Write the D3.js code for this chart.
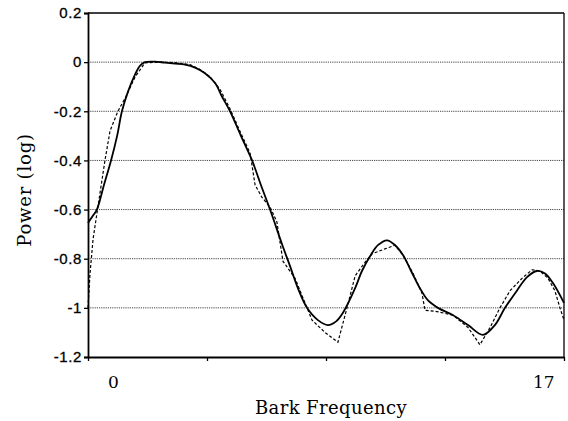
<!DOCTYPE html>
<html><head><meta charset="utf-8">
<script src="https://cdn.jsdelivr.net/npm/d3@7"></script>
<style>body{margin:0;background:#fff}svg{display:block}</style>
</head><body>
<svg id="c" width="568" height="421"></svg>
<script>
// Data (x in Bark, y in log power)
const smoothX = [-1.0,-0.84,-0.65,-0.37,-0.09,0.15,0.34,0.58,0.86,1.05,1.25,1.65,2.04,2.44,2.83,3.23,3.62,4.02,4.29,4.61,5.04,5.48,5.83,6.19,6.66,6.98,7.29,7.65,8.08,8.48,8.80,9.07,9.55,9.82,10.14,10.45,10.81,11.13,11.44,11.76,12.11,12.43,12.82,13.42,14.01,14.60,15.07,15.47,15.94,16.34,16.73,17.05,17.37,17.8];
const smoothY = [-0.655,-0.63,-0.60,-0.50,-0.40,-0.30,-0.20,-0.12,-0.05,-0.015,0.0,0.002,-0.002,-0.006,-0.01,-0.022,-0.045,-0.085,-0.14,-0.20,-0.30,-0.40,-0.50,-0.60,-0.74,-0.83,-0.92,-1.0,-1.05,-1.07,-1.055,-1.02,-0.92,-0.85,-0.79,-0.745,-0.725,-0.745,-0.785,-0.85,-0.92,-0.97,-1.0,-1.03,-1.07,-1.11,-1.07,-1.0,-0.93,-0.875,-0.85,-0.86,-0.9,-0.98];
const dashX = [-1.0,-0.96,-0.92,-0.80,-0.61,-0.33,-0.13,0.18,0.50,0.86,1.25,1.84,2.44,3.03,3.42,3.82,4.21,4.61,5.04,5.40,5.60,5.87,6.19,6.46,6.58,6.70,7.18,7.49,7.85,8.36,8.87,9.23,9.55,9.90,10.22,10.73,11.12,11.44,11.84,12.19,12.31,12.78,13.42,14.01,14.48,14.88,15.27,15.67,16.14,16.54,16.85,17.17,17.44,17.64,17.8];
const dashY = [-1.0,-0.93,-0.86,-0.72,-0.59,-0.40,-0.28,-0.20,-0.14,-0.06,-0.003,0.0,-0.002,-0.01,-0.03,-0.06,-0.11,-0.19,-0.29,-0.37,-0.50,-0.55,-0.59,-0.65,-0.73,-0.81,-0.88,-0.96,-1.05,-1.10,-1.14,-1.0,-0.87,-0.82,-0.78,-0.76,-0.745,-0.785,-0.86,-0.94,-1.01,-1.015,-1.03,-1.08,-1.15,-1.08,-1.0,-0.93,-0.88,-0.845,-0.85,-0.88,-0.93,-1.0,-1.05];
const yTicks = [0.2,0,-0.2,-0.4,-0.6,-0.8,-1,-1.2];
const yTickLabels = ["0.2","0","-0.2","-0.4","-0.6","-0.8","-1","-1.2"];
const xLabels = [0,17];
const xDomain = [-1,17.8];
const xTickCount = 4;

const svg = d3.select("#c");
const L=88, R=564, T=13, B=357;
const x = d3.scaleLinear().domain(xDomain).range([L,R]);
const y = d3.scaleLinear().domain([-1.2,0.2]).range([B,T]);
const xt = d3.scaleLinear().domain([0,xTickCount]).range([L,R]);

// gridlines
svg.append("g").selectAll("line").data(yTicks.filter(v=>v<0.19&&v>-1.19)).join("line")
  .attr("x1",L).attr("x2",R).attr("y1",d=>y(d)).attr("y2",d=>y(d))
  .attr("stroke","#444").attr("stroke-width",1).attr("stroke-dasharray","1.2,1");

// frame top & right
svg.append("line").attr("x1",L).attr("x2",R).attr("y1",T).attr("y2",T).attr("stroke","#000").attr("stroke-width",1.6);
svg.append("line").attr("x1",R).attr("x2",R).attr("y1",T).attr("y2",B).attr("stroke","#000").attr("stroke-width",1.3);

// y axis
const ya = svg.append("g").attr("transform",`translate(${L},0)`)
  .call(d3.axisLeft(y).tickValues(yTicks).tickSize(4).tickFormat((d,i)=>yTickLabels[i]));
ya.select(".domain").attr("stroke-width",1.8);
ya.selectAll(".tick line").attr("stroke-width",1.3);
ya.selectAll("text").attr("font-family","Liberation Sans, Arial, sans-serif").attr("font-size",15)
  .attr("letter-spacing",0.6).attr("fill","#000").attr("stroke","#000").attr("stroke-width",0.3).attr("x",-6);

// x axis
const xa = svg.append("g").attr("transform",`translate(0,${B})`)
  .call(d3.axisBottom(xt).ticks(xTickCount).tickSize(4).tickSizeOuter(0).tickFormat(""));
xa.select(".domain").attr("stroke-width",1.8);
xa.selectAll(".tick line").attr("stroke-width",1.3);

svg.append("g").selectAll("text").data(xLabels).join("text")
  .attr("x",d=>x(d)).attr("y",388).attr("text-anchor","middle")
  .attr("font-family","DejaVu Serif, serif").attr("font-size",17).text(d=>d);

// titles
svg.append("text").attr("x",331).attr("y",414).attr("text-anchor","middle")
  .attr("font-family","DejaVu Serif, serif").attr("font-size",18).attr("letter-spacing",0.4).text("Bark Frequency");
svg.append("text").attr("transform","translate(31,190) rotate(-90)").attr("text-anchor","middle")
  .attr("font-family","DejaVu Serif, serif").attr("font-size",18).attr("letter-spacing",0.8).text("Power (log)");

// curves
const smooth = smoothX.map((v,i)=>[v,smoothY[i]]);
const dash = dashX.map((v,i)=>[v,dashY[i]]);
svg.append("path").datum(dash)
  .attr("d",d3.line().x(d=>x(d[0])).y(d=>y(d[1])).curve(d3.curveLinear))
  .attr("fill","none").attr("stroke","#000").attr("stroke-width",1.2).attr("stroke-dasharray","3,2");
svg.append("path").datum(smooth)
  .attr("d",d3.line().x(d=>x(d[0])).y(d=>y(d[1])).curve(d3.curveCatmullRom))
  .attr("fill","none").attr("stroke","#000").attr("stroke-width",1.8);
</script>
</body></html>
